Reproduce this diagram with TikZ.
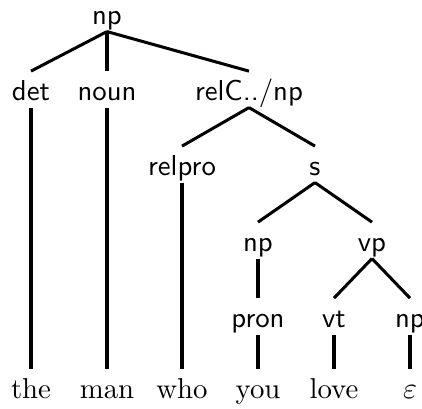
\documentclass[tikz,border=0pt]{standalone}
\begin{document}
\begin{tikzpicture}[x=0.365pt,y=-0.365pt,
  lab/.style={font=\fontsize{10.5}{12}\sffamily, anchor=base, text height=10pt, text depth=1.5pt, inner sep=0.7pt},
  word/.style={font=\fontsize{10.5}{12}\rmfamily, anchor=base, text height=10pt, text depth=1pt, inner sep=0.7pt},
  edge/.style={line width=1.1pt}]
\useasboundingbox (0,0) rectangle (422,409);
% labels
\node[lab] (np0) at (107,25) {np};
\node[lab] (det) at (31,101) {det};
\node[lab] (noun) at (107,101) {noun};
\node[lab] (relc) at (249,101) {relC../np};
\node[lab] (relpro) at (182,176) {relpro};
\node[lab] (s) at (315,176) {s};
\node[lab] (np1) at (258,252) {np};
\node[lab] (vp) at (372,252) {vp};
\node[lab] (pron) at (258,328) {pron};
\node[lab] (vt) at (334,328) {vt};
\node[lab] (np2) at (410,328) {np};
% words
\node[word] (the) at (31,399) {the};
\node[word] (man) at (107,399) {man};
\node[word] (who) at (182,399) {who};
\node[word] (you) at (258,399) {you};
\node[word] (love) at (334,399) {love};
\node[word] (eps) at (410,399) {$\varepsilon$};
% edges
\draw[edge] (np0.south) -- (det.north);
\draw[edge] (np0.south) -- (noun.north);
\draw[edge] (np0.south) -- (relc.north);
\draw[edge] (relc.south) -- (relpro.north);
\draw[edge] (relc.south) -- (s.north);
\draw[edge] (s.south) -- (np1.north);
\draw[edge] (s.south) -- (vp.north);
\draw[edge] (np1.south) -- (pron.north);
\draw[edge] (vp.south) -- (vt.north);
\draw[edge] (vp.south) -- (np2.north);
\draw[edge] (det.south) -- (the.north);
\draw[edge] (noun.south) -- (man.north);
\draw[edge] (relpro.south) -- (who.north);
\draw[edge] (pron.south) -- (you.north);
\draw[edge] (vt.south) -- (love.north);
\draw[edge] (np2.south) -- (eps.north);
\end{tikzpicture}
\end{document}
